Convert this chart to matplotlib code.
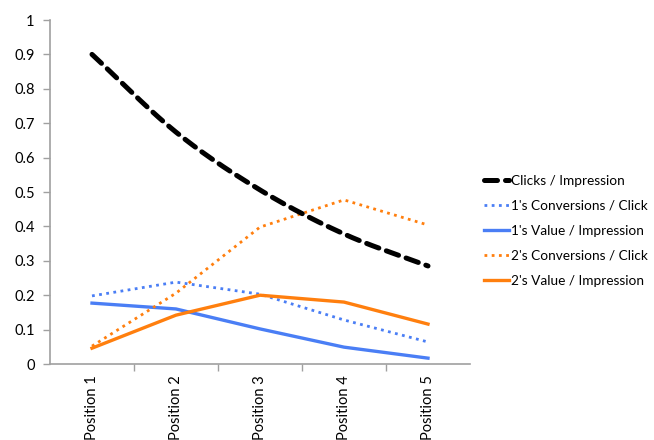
import numpy as np
import matplotlib
matplotlib.use("Agg")
import matplotlib.pyplot as plt
from matplotlib.ticker import FixedLocator, NullFormatter

plt.rcParams['font.family'] = ['Lato', 'DejaVu Sans']

categories = ["Position 1", "Position 2", "Position 3", "Position 4", "Position 5"]
clicks_per_impression = [0.90, 0.674, 0.506, 0.378, 0.285]
conv1_per_click = [0.198, 0.238, 0.203, 0.128, 0.064]
value1_per_impression = [0.177, 0.160, 0.102, 0.049, 0.017]
conv2_per_click = [0.052, 0.206, 0.398, 0.477, 0.404]
value2_per_impression = [0.046, 0.142, 0.200, 0.180, 0.116]
y_ticks = [0, 0.1, 0.2, 0.3, 0.4, 0.5, 0.6, 0.7, 0.8, 0.9, 1]
y_tick_labels = ["0", "0.1", "0.2", "0.3", "0.4", "0.5", "0.6", "0.7", "0.8", "0.9", "1"]

BLUE = "#4a7ef5"
ORANGE = "#ff7f0e"
AXIS_GREY = "#a0a0a0"


def smooth(xs, ys, n=40):
    """Catmull-Rom curve through the given points."""
    xs = np.asarray(xs, float)
    ys = np.asarray(ys, float)
    px = np.concatenate([[2 * xs[0] - xs[1]], xs, [2 * xs[-1] - xs[-2]]])
    py = np.concatenate([[2 * ys[0] - ys[1]], ys, [2 * ys[-1] - ys[-2]]])
    out_x, out_y = [], []
    t = np.linspace(0, 1, n)
    for i in range(1, len(px) - 2):
        for arr, out in ((px, out_x), (py, out_y)):
            p0, p1, p2, p3 = arr[i - 1], arr[i], arr[i + 1], arr[i + 2]
            seg = 0.5 * ((2 * p1) + (-p0 + p2) * t
                         + (2 * p0 - 5 * p1 + 4 * p2 - p3) * t ** 2
                         + (-p0 + 3 * p1 - 3 * p2 + p3) * t ** 3)
            out.extend(seg if i == 1 else seg[1:])
    return np.array(out_x), np.array(out_y)


fig = plt.figure(figsize=(6.54, 4.40), dpi=100)
ax = fig.add_axes([50 / 654, 76 / 440, 420 / 654, 344 / 440])

x = np.arange(len(categories))

sx, sy = smooth(x, clicks_per_impression)
ax.plot(sx, sy, color="black", lw=3.6, dashes=(2.6, 1.6),
        dash_capstyle="round", label="Clicks / Impression", zorder=5)
ax.plot(x, conv1_per_click, color=BLUE, lw=2.0, linestyle=(0, (1, 1.6)),
        label="1's Conversions / Click")
ax.plot(x, value1_per_impression, color=BLUE, lw=2.4,
        label="1's Value / Impression")
ax.plot(x, conv2_per_click, color=ORANGE, lw=2.0, linestyle=(0, (1, 1.6)),
        label="2's Conversions / Click")
ax.plot(x, value2_per_impression, color=ORANGE, lw=2.4,
        label="2's Value / Impression")

ax.set_xlim(-0.5, len(categories) - 0.5)
ax.set_ylim(0, 1)

ax.set_yticks(y_ticks)
ax.set_yticklabels(y_tick_labels)
ax.set_xticks(x)
ax.set_xticklabels(categories, rotation=90, va="top")
ax.xaxis.set_minor_locator(FixedLocator(np.arange(0.5, len(categories) - 0.5, 1)))
ax.xaxis.set_minor_formatter(NullFormatter())

ax.tick_params(axis="x", which="major", length=0, pad=8, labelsize=10.5,
               colors="black")
ax.tick_params(axis="x", which="minor", length=5, width=1, color=AXIS_GREY,
               direction="out")
ax.tick_params(axis="y", length=5, width=1, color=AXIS_GREY, direction="out",
               labelsize=10.5, pad=6)

for side in ("top", "right"):
    ax.spines[side].set_visible(False)
for side in ("left", "bottom"):
    ax.spines[side].set_color(AXIS_GREY)
    ax.spines[side].set_linewidth(1.2)

leg = ax.legend(loc="center left", bbox_to_anchor=(1.02, 0.387), frameon=False,
                fontsize=9.8, handlelength=1.85, handletextpad=0.15,
                labelspacing=0.95, borderaxespad=0)

fig.savefig("out.png", dpi=100)
